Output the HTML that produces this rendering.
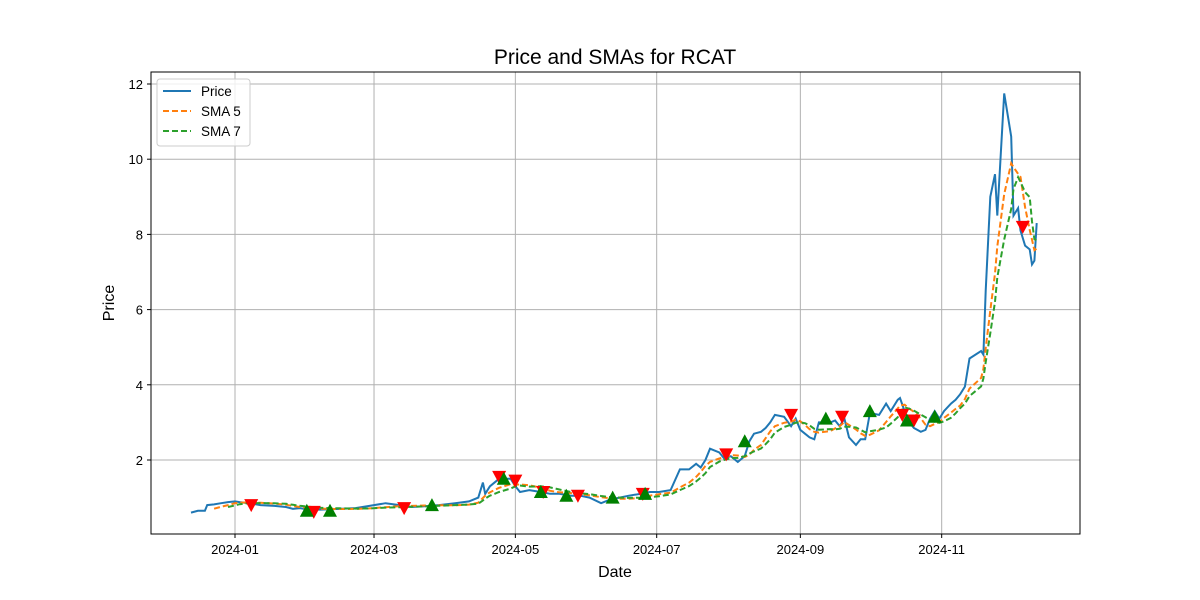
<!DOCTYPE html>
<html><head><meta charset="utf-8"><style>
body{margin:0;background:#fff;}
svg{display:block;font-family:"Liberation Sans","DejaVu Sans",sans-serif;}
</style></head><body>
<svg id="chart" width="1200" height="600" viewBox="0 0 1200 600" xmlns="http://www.w3.org/2000/svg">
<rect width="1200" height="600" fill="#fff"/>
<text x="615" y="64" font-size="21" text-anchor="middle" fill="#000">Price and SMAs for RCAT</text>
<g id="grid"></g>
<g id="series"></g>
<g id="markers"></g>
<rect x="151" y="72" width="929" height="462" fill="none" stroke="#000" stroke-width="1"/>
<g id="ticks"></g>
<text x="615" y="577" font-size="16" text-anchor="middle">Date</text>
<text x="114" y="303" font-size="16" text-anchor="middle" transform="rotate(-90 114 303)">Price</text>
<g>
<rect x="157" y="79" width="93" height="67" rx="3" fill="#fff" fill-opacity="0.8" stroke="#ccc"/>
<line x1="163" y1="91" x2="191" y2="91" stroke="#1f77b4" stroke-width="2"/>
<text x="201" y="96" font-size="13.5">Price</text>
<line x1="163" y1="111" x2="191" y2="111" stroke="#ff7f0e" stroke-width="2" stroke-dasharray="6,3"/>
<text x="201" y="116" font-size="13.5">SMA 5</text>
<line x1="163" y1="131" x2="191" y2="131" stroke="#2ca02c" stroke-width="2" stroke-dasharray="6,3"/>
<text x="201" y="136" font-size="13.5">SMA 7</text>
</g>
</svg>
<script>
const priceDays=[-19,-16,-13,-12,-9,-6,-3,0,2,6,11,17,22,25,28,32,37,45,52,58,65,71,76,82,88,95,101,105,107,108,110,114,119,121,123,127,132,136,140,145,149,153,158,162,166,170,175,179,183,188,192,196,199,201,203,205,209,211,214,217,220,222,224,227,229,231,233,237,240,242,244,246,248,250,252,257,259,261,263,265,268,270,272,274,278,281,283,286,287,289,291,293,296,298,300,302,304,306,309,311,313,315,317,322,323,324,326,328,329,332,335,336,338,339,341,343,344,345,346];
const priceVals=[0.6,0.65,0.65,0.8,0.82,0.85,0.88,0.9,0.88,0.85,0.8,0.78,0.75,0.7,0.72,0.68,0.68,0.7,0.72,0.78,0.85,0.8,0.75,0.77,0.8,0.85,0.9,1.0,1.4,1.1,1.3,1.5,1.5,1.3,1.15,1.2,1.15,1.1,1.1,1.05,1.05,1.0,0.85,0.95,1.0,1.05,1.1,1.15,1.15,1.2,1.75,1.75,1.9,1.8,2.0,2.3,2.2,2.05,2.1,1.95,2.1,2.5,2.7,2.75,2.85,3.0,3.2,3.15,2.9,3.1,2.8,2.7,2.6,2.55,3.0,3.0,3.05,2.9,3.1,2.6,2.4,2.55,2.55,3.25,3.2,3.5,3.3,3.6,3.65,3.3,3.0,2.85,2.75,2.8,3.1,3.3,3.1,3.3,3.5,3.6,3.75,3.95,4.7,4.9,4.8,6.5,9.0,9.6,8.5,11.75,10.6,8.5,8.7,8.1,7.7,7.6,7.2,7.3,8.3];
const sellDays=[7,34,73,114,121,133,148,176,212,240,262,288,293,340];
const sellVals=[0.8,0.62,0.72,1.55,1.45,1.15,1.05,1.1,2.15,3.2,3.15,3.2,3.05,8.2];
const buyDays=[31,41,85,116,132,143,163,177,220,255,274,290,302];
const buyVals=[0.65,0.65,0.8,1.5,1.15,1.05,1.0,1.1,2.5,3.1,3.3,3.05,3.15];
const xTickDays=[0,60,121,182,244,305];
const xTickLabels=["2024-01","2024-03","2024-05","2024-07","2024-09","2024-11"];
const yTicks=[2,4,6,8,10,12];

const NS="http://www.w3.org/2000/svg";
const X=d=>235+d*2.317;
const Y=v=>460-(v-2)*37.6;
function mk(tag,attrs,parent){const e=document.createElementNS(NS,tag);for(const k in attrs)e.setAttribute(k,attrs[k]);document.getElementById(parent).appendChild(e);return e;}

xTickDays.forEach((d,i)=>{
  const g=mk('line',{x1:X(d),x2:X(d),y1:72,y2:534,stroke:'#b0b0b0','stroke-width':1},'grid');
  
  
  const t=mk('line',{x1:X(d),x2:X(d),y1:534,y2:538,stroke:'#000'},'ticks');
  
  
  const l=mk('text',{x:X(d),y:554,'font-size':13,'text-anchor':'middle'},'ticks');
  l.textContent=xTickLabels[i];
  
  
});
yTicks.forEach(v=>{
  const g=mk('line',{x1:151,x2:1080,y1:Y(v),y2:Y(v),stroke:'#b0b0b0','stroke-width':1},'grid');
  
  
  const t=mk('line',{x1:147,x2:151,y1:Y(v),y2:Y(v),stroke:'#000'},'ticks');
  
  
  const l=mk('text',{x:143,y:Y(v)+5,'font-size':13,'text-anchor':'end'},'ticks');
  l.textContent=v;
  
  
});
function sma(n){const out=[];for(let i=n-1;i<priceVals.length;i++){let s=0;for(let j=i-n+1;j<=i;j++)s+=priceVals[j];out.push([priceDays[i],s/n]);}return out;}
function pathOf(pts){return pts.map((p,i)=>(i?'L':'M')+X(p[0]).toFixed(1)+','+Y(p[1]).toFixed(1)).join('');}
const pp=mk('path',{d:pathOf(priceDays.map((d,i)=>[d,priceVals[i]])),fill:'none',stroke:'#1f77b4','stroke-width':2},'series');


const s5=mk('path',{d:pathOf(sma(5)),fill:'none',stroke:'#ff7f0e','stroke-width':2,'stroke-dasharray':'6,3'},'series');


const s7=mk('path',{d:pathOf(sma(7)),fill:'none',stroke:'#2ca02c','stroke-width':2,'stroke-dasharray':'6,3'},'series');


sellDays.forEach((d,i)=>{const x=X(d),y=Y(sellVals[i]);
  const m=mk('polygon',{points:`${x-7},${y-6} ${x+7},${y-6} ${x},${y+7}`,fill:'red'},'markers');
  
  
});
buyDays.forEach((d,i)=>{const x=X(d),y=Y(buyVals[i]);
  const m=mk('polygon',{points:`${x-7},${y+6} ${x+7},${y+6} ${x},${y-7}`,fill:'green'},'markers');
  
  
});
</script>
</body></html>
